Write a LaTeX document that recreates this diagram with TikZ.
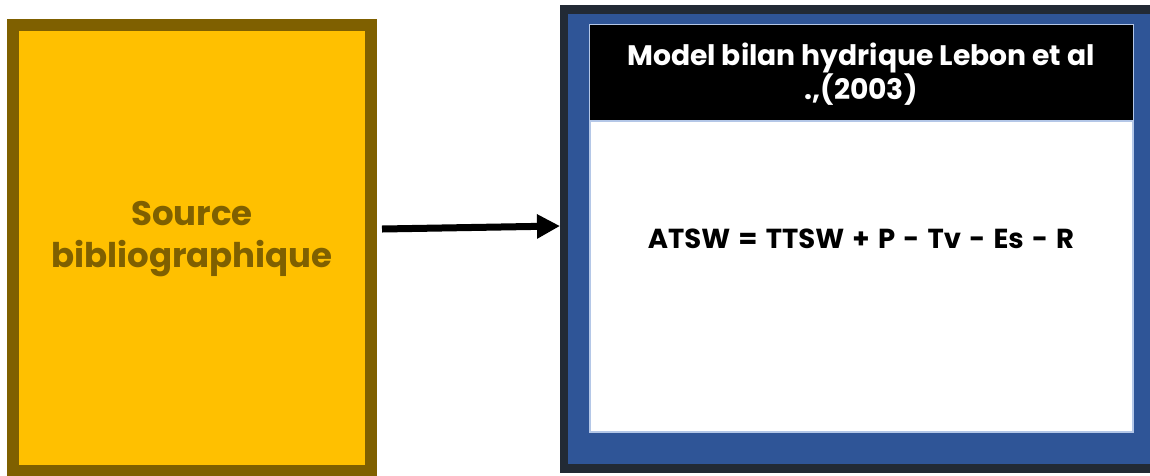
\documentclass[tikz,border=0pt]{standalone}
\usepackage{fontspec}
\setmainfont{Poppins}
\usetikzlibrary{arrows.meta}
\definecolor{gold}{HTML}{FFC000}
\definecolor{goldborder}{HTML}{7F6000}
\definecolor{darknavy}{HTML}{222A35}
\definecolor{midblue}{HTML}{2F5597}
\definecolor{paleblue}{HTML}{B4C7E7}
\newcommand{\eqfont}{\bfseries\fontsize{27.5}{32}\selectfont\spaceskip=0.3em\relax}
\tikzset{
  srcbox/.style={draw=goldborder, fill=gold, line width=12pt, minimum width=358pt, minimum height=446pt, inner sep=0pt},
  srctext/.style={text=goldborder, font=\bfseries\fontsize{34}{42}\selectfont, align=center, inner sep=0pt},
  outerbox/.style={fill=darknavy, minimum width=590pt, minimum height=468pt, inner sep=0pt, outer sep=0pt},
  bluebox/.style={fill=midblue, minimum width=582pt, minimum height=450pt, inner sep=0pt, outer sep=0pt},
  framebox/.style={draw=paleblue, line width=2pt, fill=white, minimum width=543pt, minimum height=407pt, inner sep=0pt},
  headbox/.style={fill=black, minimum width=543pt, minimum height=96pt, inner sep=0pt},
  headtext/.style={text=white, font=\bfseries\fontsize{28.2}{29}\selectfont, align=center, inner sep=0pt},
  eqtext/.style={text=black, font=\eqfont, inner sep=0pt},
  flow/.style={line width=7pt, -{Triangle[length=23pt,width=23pt]}}
}
\begin{document}
\begin{tikzpicture}[x=1pt,y=-1pt]
\useasboundingbox (0,0) rectangle (1150,475);
\begin{scope}
\clip (0,0) rectangle (1150,475);
% left box
\node[srcbox] (src) at (192,248) {};
\node[srctext] (srclbl) at (192,239) {Source\\bibliographique};
% right box
\node[outerbox] (model) at (855,239) {};
\node[bluebox] (blue) at (859,239) {};
\node[framebox] (frame) at (861.5,228.5) {};
\node[headbox] (head) at (861.5,73) {};
\draw[paleblue, line width=2pt] (head.south west) -- (head.south east);
\node[headtext] (headlbl) at (861,74) {Model bilan hydrique Lebon et al\\.,(2003)};
\node[eqtext, anchor=base] (eq) at (861,248) {ATSW = TTSW + P - Tv - Es - R};
% arrow
\draw[flow] ([xshift=5pt,yshift=19pt]src.east) -- ([yshift=13pt]model.west);
\end{scope}
\end{tikzpicture}
\end{document}
